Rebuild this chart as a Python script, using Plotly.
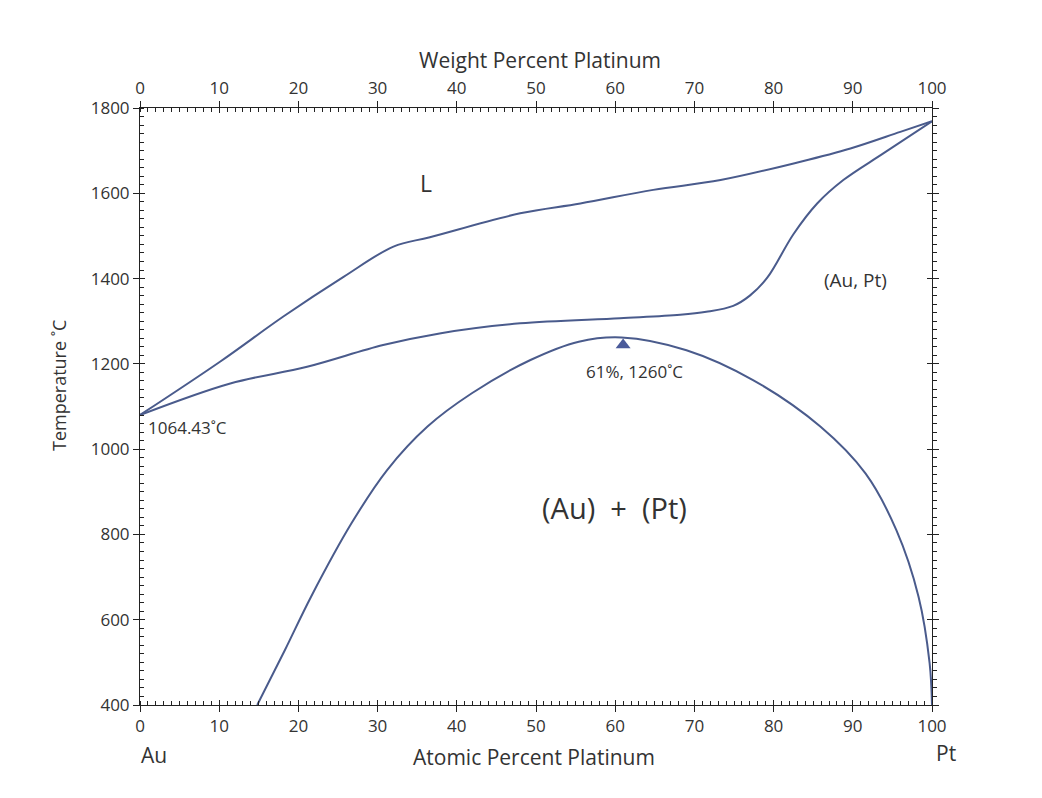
import plotly.graph_objects as go

# Liquidus (upper curve): atomic % Pt vs temperature
liq_x = [0, 10.1, 18.1, 25.7, 32.0, 36.6, 48.0, 55.6, 64.8, 73.3, 83.4, 89.7, 96.0, 100]
liq_t = [1080, 1205, 1311, 1404, 1475, 1497, 1553, 1576, 1608, 1631, 1674, 1705, 1744, 1769]

# Solidus
sol_x = [0, 11.4, 21.1, 30.7, 38.0, 48.0, 60.6, 68.2, 71.5, 74.9, 77.0, 79.2, 82.5, 85.5, 88.8, 93.9, 100]
sol_t = [1080, 1154, 1193, 1244, 1272, 1295, 1307, 1315, 1322, 1336, 1360, 1402, 1504, 1576, 1631, 1694, 1769]

# Miscibility gap (Au) + (Pt)
gap_x = [14.8, 18.3, 21.6, 26.7, 31.2, 36.3, 41.9, 49.3, 55.4, 60.8, 69.0, 77.4, 85.9, 91.6, 95.5, 98.3, 99.7, 100]
gap_t = [400, 529, 654, 826, 951, 1053, 1131, 1209, 1252, 1262, 1232, 1162, 1053, 943, 810, 654, 498, 400]

crit_x = [61]
crit_t = [1244]

x_ticks = [0, 10, 20, 30, 40, 50, 60, 70, 80, 90, 100]
wt_ticks = [0, 10, 20, 30, 40, 50, 60, 70, 80, 90, 100]
y_ticks = [400, 600, 800, 1000, 1200, 1400, 1600, 1800]

LINE = "#4a5b8c"
AX = "#222222"
TXT = "#333333"
FONT = "Open Sans"
NB = "\u00a0"

fig = go.Figure()
for xs, ts in [(liq_x, liq_t), (sol_x, sol_t), (gap_x, gap_t)]:
    fig.add_trace(go.Scatter(x=xs, y=ts, mode="lines",
                             line=dict(color=LINE, width=2, shape="spline", smoothing=1.0),
                             showlegend=False, hoverinfo="skip"))
fig.add_trace(go.Scatter(x=crit_x, y=crit_t, mode="markers",
                         marker=dict(symbol="triangle-up", size=13, color="#4a5a9a"),
                         showlegend=False, hoverinfo="skip"))
# invisible traces carrying the extra axes (top weight %, right side, inner halves of major ticks)
for xa, ya in [("x2", "y2"), ("x3", "y3"), ("x4", "y4")]:
    fig.add_trace(go.Scatter(x=[0, 100], y=[400, 400], xaxis=xa, yaxis=ya, mode="lines",
                             line=dict(width=0), showlegend=False, hoverinfo="skip"))

axis_common = dict(showgrid=False, zeroline=False, showline=True, linecolor=AX, linewidth=1,
                   ticks="outside", ticklen=6, tickcolor=AX,
                   tickfont=dict(family=FONT, size=17, color=TXT))
inner = dict(showgrid=False, zeroline=False, showline=False, showticklabels=False,
             ticks="inside", ticklen=5, tickcolor=AX)

fig.update_layout(
    width=1026, height=782, autosize=False,
    paper_bgcolor="white", plot_bgcolor="white",
    margin=dict(l=132, r=102, t=100, b=85),
    font=dict(family=FONT, color=TXT),
    xaxis=dict(range=[0, 100], tickvals=x_ticks, **axis_common,
               minor=dict(dtick=1, ticks="inside", ticklen=4, tickcolor=AX)),
    xaxis2=dict(range=[0, 100], overlaying="x", side="top", tickvals=wt_ticks, **axis_common,
                minor=dict(dtick=1, ticks="inside", ticklen=4, tickcolor=AX)),
    yaxis=dict(range=[400, 1800], tickvals=y_ticks, **axis_common,
               minor=dict(dtick=20, ticks="inside", ticklen=4, tickcolor=AX)),
    yaxis2=dict(range=[400, 1800], overlaying="y", side="right", tickvals=y_ticks,
                showticklabels=False, showgrid=False, zeroline=False, showline=True,
                linecolor=AX, linewidth=1, ticks="outside", ticklen=6, tickcolor=AX,
                minor=dict(dtick=20, ticks="outside", ticklen=4, tickcolor=AX)),
    xaxis3=dict(range=[0, 100], overlaying="x", side="bottom", tickvals=x_ticks, **inner),
    yaxis3=dict(range=[400, 1800], overlaying="y", side="left", tickvals=y_ticks, **inner),
    xaxis4=dict(range=[0, 100], overlaying="x", side="top", tickvals=wt_ticks, **inner),
    yaxis4=dict(range=[400, 1800], overlaying="y", side="right", tickvals=y_ticks, **inner),
)

ann = [
    dict(x=36.1, y=1624, text="L", size=23, xanchor="center"),
    dict(x=90.3, y=1397, text="(Au, Pt)", size=19, xanchor="center"),
    dict(x=62.4, y=1183, text="61%, 1260˚C", size=17, xanchor="center"),
    dict(x=59.9, y=862, text="(Au)" + NB + " +" + NB + " (Pt)", size=29, xanchor="center"),
    dict(x=0.7, y=1050, text="1064.43˚C", size=17, xanchor="left"),
    dict(x=101.3, y=1782, text="1769˚C", size=17, xanchor="left"),
]
for a in ann:
    fig.add_annotation(x=a["x"], y=a["y"], xref="x", yref="y", text=a["text"], showarrow=False,
                       xanchor=a["xanchor"], yanchor="middle",
                       font=dict(family=FONT, size=a["size"], color=TXT))

paper_ann = [
    dict(x=0.497, y=-0.087, text="Atomic Percent Platinum", size=21, angle=0),
    dict(x=0.505, y=1.080, text="Weight Percent Platinum", size=21, angle=0),
    dict(x=-0.103, y=0.535, text="Temperature ˚C", size=18, angle=-90),
    dict(x=0.018, y=-0.083, text="Au", size=21, angle=0),
    dict(x=1.018, y=-0.080, text="Pt", size=21, angle=0),
]
for a in paper_ann:
    fig.add_annotation(x=a["x"], y=a["y"], xref="paper", yref="paper", text=a["text"],
                       showarrow=False, xanchor="center", yanchor="middle", textangle=a["angle"],
                       font=dict(family=FONT, size=a["size"], color=TXT))

fig.write_html("out.html")
